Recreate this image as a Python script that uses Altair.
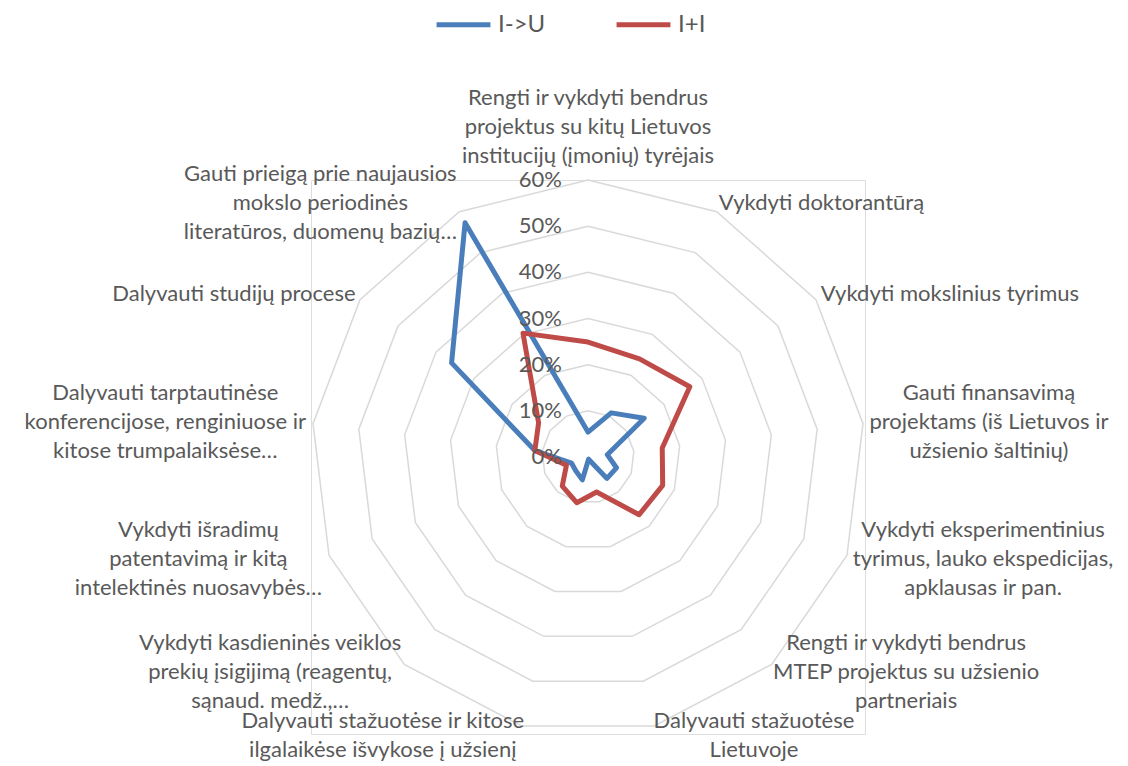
import altair as alt
import pandas as pd

categories = [
    "Rengti ir vykdyti bendrus\nprojektus su kitų Lietuvos\ninstitucijų (įmonių) tyrėjais",
    "Vykdyti doktorantūrą",
    "Vykdyti mokslinius tyrimus",
    "Gauti finansavimą\nprojektams (iš Lietuvos ir\nužsienio šaltinių)",
    "Vykdyti eksperimentinius\ntyrimus, lauko ekspedicijas,\napklausas ir pan.",
    "Rengti ir vykdyti bendrus\nMTEP projektus su užsienio\npartneriais",
    "Dalyvauti stažuotėse\nLietuvoje",
    "Dalyvauti stažuotėse ir kitose\nilgalaikėse išvykose į užsienį",
    "Vykdyti kasdieninės veiklos\nprekių įsigijimą (reagentų,\nsąnaud. medž.,…",
    "Vykdyti išradimų\npatentavimą ir kitą\nintelektinės nuosavybės…",
    "Dalyvauti tarptautinėse\nkonferencijose, renginiuose ir\nkitose trumpalaiksėse…",
    "Dalyvauti studijų procese",
    "Gauti prieigą prie naujausios\nmokslo periodinės\nliteratūros, duomenų bazių…",
]
series_names = ["I->U", "I+I"]
values_iu = [0.054, 0.108, 0.148, 0.042, 0.066, 0.062, 0.005, 0.051, 0.040, 0.038, 0.116, 0.359, 0.573]
values_ii = [0.249, 0.240, 0.268, 0.162, 0.173, 0.167, 0.078, 0.102, 0.084, 0.050, 0.116, 0.130, 0.303]
ticks = [0.0, 0.1, 0.2, 0.3, 0.4, 0.5, 0.6]
tick_labels = ["0%", "10%", "20%", "30%", "40%", "50%", "60%"]
colors = ["#4a7ebb", "#be4b48"]

N = len(categories)
RMAX = 0.6
PLOT = 554
PXU = (PLOT / 2) / RMAX  # pixels per data unit
FONT = "Lato"
FS = 22
LH = 29
GAP = 10    # px between outer ring and labels
TXT = "#595959"

# rough glyph widths (em) for estimating text block widths
_W = {" ": .193, "a": .48, "b": .55, "c": .46, "d": .55, "e": .52, "f": .32, "g": .50,
      "h": .55, "i": .24, "j": .24, "k": .49, "l": .24, "m": .82, "n": .55, "o": .55,
      "p": .55, "q": .55, "r": .37, "s": .42, "t": .35, "u": .55, "v": .50, "w": .76,
      "x": .49, "y": .50, "z": .45, ",": .22, ".": .22, "(": .30, ")": .30, "…": .80,
      "D": .70, "G": .67, "I": .28, "L": .48, "M": .85, "E": .53, "T": .55, "P": .58,
      "R": .60, "V": .64}
_BASE = str.maketrans("ąįųėūšžčę", "aiueuszce")


def text_w(s):
    return sum(_W.get(ch, .55) for ch in s.translate(_BASE)) * FS


rows = []
for name, vals in zip(series_names, [values_iu, values_ii]):
    for seq in range(N + 1):
        k = seq % N
        rows.append({"series": name, "seq": seq, "k": k, "value": vals[k]})
series_df = pd.DataFrame(rows)

ring_df = pd.DataFrame([
    {"tick": t, "seq": s, "k": s % N} for t in ticks if t > 0 for s in range(N + 1)
])

tick_df = pd.DataFrame({"tick": ticks, "label": tick_labels})

lab_rows = []
for k, c in enumerate(categories):
    lines = c.split("\n")
    lab_rows.append({
        "k": k,
        "text": c,
        "hw": max(text_w(l) for l in lines) / 2,
        "hh": len(lines) * LH / 2,
        "voff": (len(lines) - 1) * LH / 2,
    })
lab_df = pd.DataFrame(lab_rows)

xs = alt.Scale(domain=[-RMAX, RMAX])
ys = alt.Scale(domain=[-RMAX, RMAX])

ang = f"2*PI*datum.k/{N}"

rings = alt.Chart(ring_df).transform_calculate(
    a=ang
).transform_calculate(
    px="datum.tick*sin(datum.a)", py="datum.tick*cos(datum.a)"
).mark_line(color="#d9d9d9", strokeWidth=1.5).encode(
    x=alt.X("px:Q", scale=xs, axis=None),
    y=alt.Y("py:Q", scale=ys, axis=None),
    detail="tick:N",
    order="seq:Q",
)

lines = alt.Chart(series_df).transform_calculate(
    a=ang
).transform_calculate(
    px="datum.value*sin(datum.a)", py="datum.value*cos(datum.a)"
).mark_line(strokeWidth=5, strokeJoin="round", strokeCap="round").encode(
    x=alt.X("px:Q", scale=xs, axis=None),
    y=alt.Y("py:Q", scale=ys, axis=None),
    color=alt.Color(
        "series:N",
        scale=alt.Scale(domain=series_names, range=colors),
        sort=series_names,
        legend=alt.Legend(
            title=None, orient="none", direction="horizontal",
            legendX=123, legendY=-185, symbolType="stroke",
            symbolSize=2900, symbolStrokeWidth=5, labelFontSize=24,
            labelFont=FONT, labelColor=TXT, labelOffset=5,
            columnPadding=60, padding=0, symbolOpacity=1,
        ),
    ),
    detail="series:N",
    order="seq:Q",
)

tick_text = alt.Chart(tick_df).transform_calculate(
    px="0"
).mark_text(
    align="right", baseline="middle", dx=-26, fontSize=FS, font=FONT, color=TXT
).encode(
    x=alt.X("px:Q", scale=xs, axis=None),
    y=alt.Y("tick:Q", scale=ys, axis=None),
    text="label:N",
)

rl = f"({RMAX} + {GAP}/{PXU})"
cat_text = alt.Chart(lab_df).transform_calculate(
    a=ang
).transform_calculate(
    s="sin(datum.a)", c="cos(datum.a)"
).transform_calculate(
    lx=f"{rl}*datum.s + (abs(datum.s) > 0.1 ? (datum.s > 0 ? 1 : -1) * datum.hw / {PXU} : 0)",
    ly=f"{rl}*datum.c + (abs(datum.s) <= 0.1 ? datum.c * datum.hh / {PXU} : 0) + datum.voff / {PXU}",
).mark_text(
    align="center", baseline="middle", fontSize=FS, font=FONT, color=TXT,
    lineBreak="\n", lineHeight=LH,
).encode(
    x=alt.X("lx:Q", scale=xs, axis=None),
    y=alt.Y("ly:Q", scale=ys, axis=None),
    text="text:N",
)

chart = alt.layer(rings, lines, tick_text, cat_text).properties(
    width=PLOT, height=PLOT,
    autosize=alt.AutoSizeParams(type="none"),
    padding={"left": 303, "top": 172, "right": 255, "bottom": 30},
).configure_view(strokeWidth=0).configure(background="white")

chart.save("out.html", embed_options={"renderer": "svg", "actions": False})
